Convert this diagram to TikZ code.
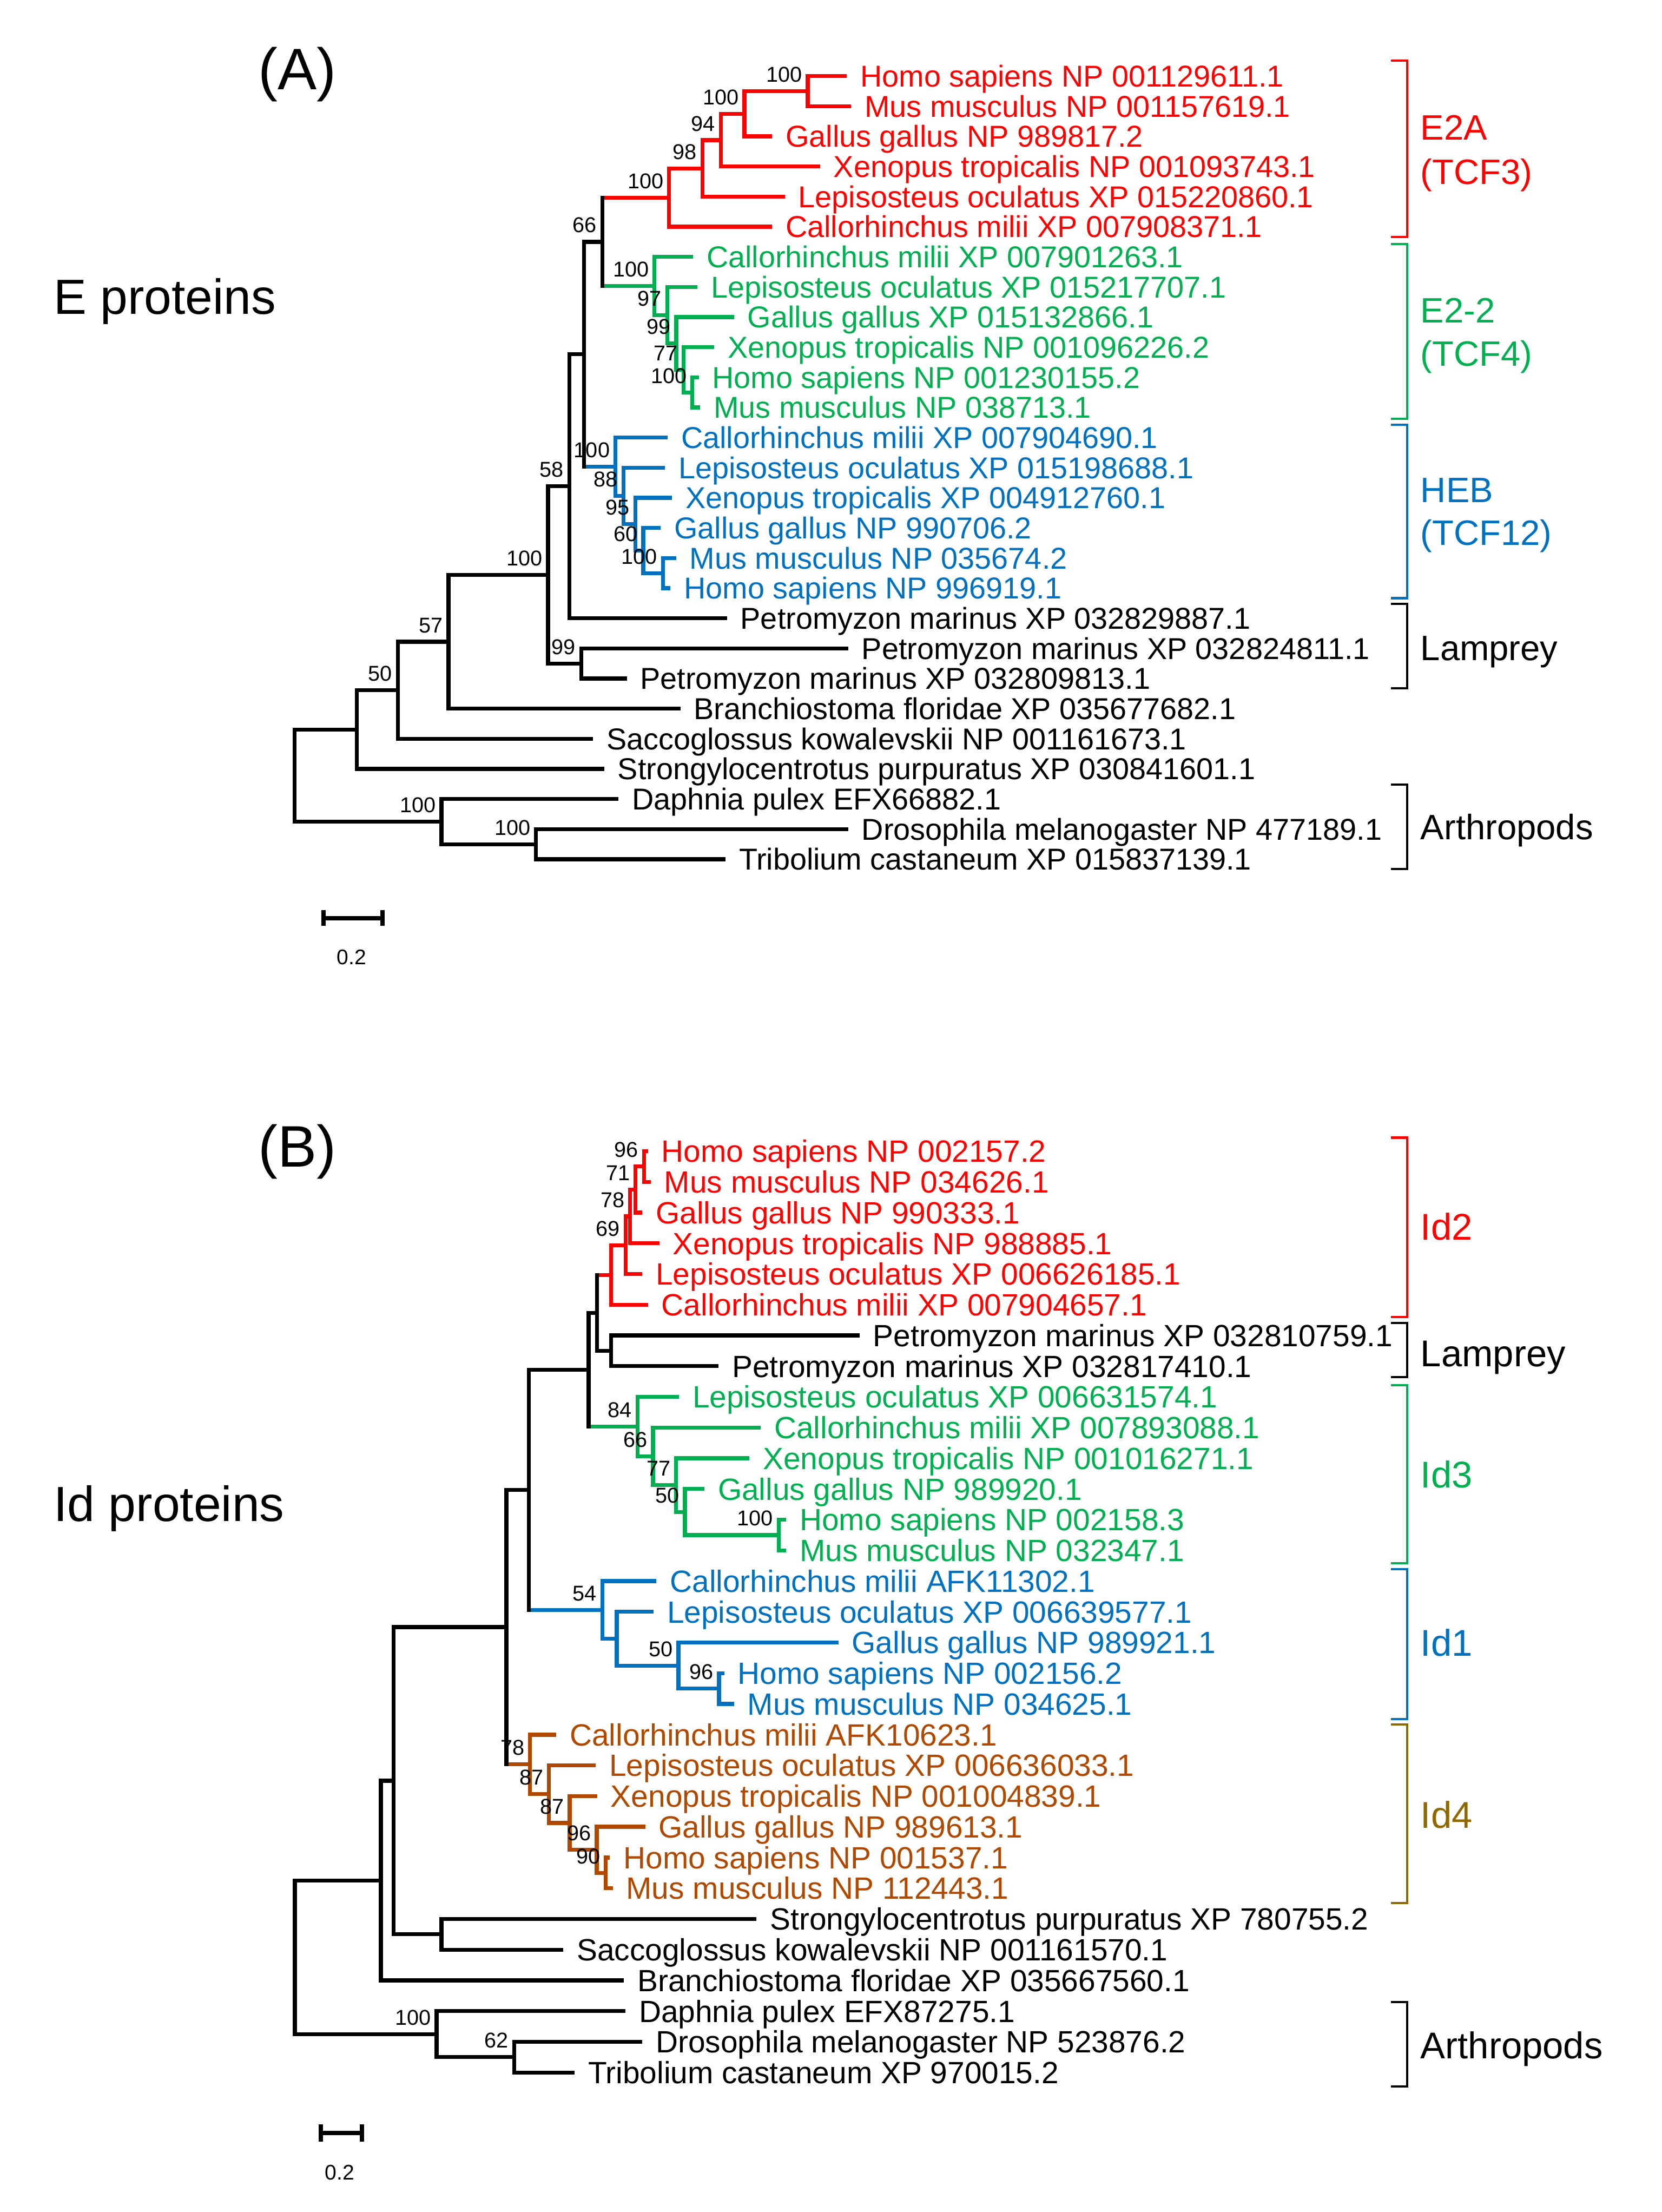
\documentclass[tikz,border=0pt]{standalone}
\usepackage{fontspec}
\setmainfont{Liberation Sans}
\usetikzlibrary{calc}
\definecolor{cred}{RGB}{255,0,0}
\definecolor{cgreen}{RGB}{0,176,80}
\definecolor{cblue}{RGB}{0,112,192}
\definecolor{cbrown}{RGB}{177,72,0}
\definecolor{colive}{RGB}{143,104,0}
\newcommand\mknode[4]{\path let \p1=(#3), \p2=(#4) in coordinate (#1) at (#2pt,{0.5*(\y1+\y2)});}
\newcommand\clade[6]{%
  \draw[tree,#4] (#1 |- #3) -- (#3);
  \draw[tree,#6] (#1 |- #5) -- (#5);
  \draw[tree,#2] (#1 |- #3) -- (#1 |- #5);}
\newcommand\boot[2]{\node[bsl] (bs-#1) at (#1) {#2};}
\newcommand\tiplabel[3]{\node[#2] (t-#1) at ([xshift=10.8pt]#1) {#3};}
\newcommand\bracketmark[4]{%
  \coordinate (#1-t) at (997.6,#3); \coordinate (#1-b) at (997.6,#4);
  \draw[brk,#2] ([xshift=-11.6pt]#1-t) -- (#1-t) -- (#1-b) -- ([xshift=-11.6pt]#1-b);}
\tikzset{
  tree/.style={line width=2.8pt, line cap=rect},
  leafA/.style={anchor=base west, inner sep=0pt, font=\fontsize{21.4}{25}\selectfont, yshift=-7.6pt},
  leafB/.style={anchor=base west, inner sep=0pt, font=\fontsize{21.8}{25}\selectfont, yshift=-7.8pt},
  bsl/.style={anchor=base east, inner sep=0pt, font=\fontsize{15.2}{17}\selectfont, xshift=-3.8pt, yshift=6.5pt},
  brk/.style={line width=1.6pt},
  brlabA/.style={anchor=base west, inner sep=0pt, font=\fontsize{25}{29}\selectfont, yshift=-8.95pt},
  brlabB/.style={anchor=base west, inner sep=0pt, font=\fontsize{26.4}{30}\selectfont, yshift=-9.45pt},
  title/.style={anchor=base west, inner sep=0pt},
  sbar/.style={line width=2.9pt},
  sbtick/.style={line width=3pt},
  sblab/.style={inner sep=0pt, font=\fontsize{15}{17}\selectfont},
}
\begin{document}
\begin{tikzpicture}[x=1pt,y=-1pt]
\fill[white] (0,0) rectangle (1178,1568);
\useasboundingbox (0,0) rectangle (1178,1568);

% ===================== Panel A =====================
\node[title, font=\fontsize{41.5}{48}\selectfont] (tA) at (183,63.5) {(A)};
\node[title, font=\fontsize{35}{40}\selectfont] (tE) at (38,222.5) {E proteins};

\coordinate (a1) at (599,54.0);
\coordinate (a2) at (602,75.35);
\coordinate (a3) at (546,96.7);
\coordinate (a4) at (580,118.05);
\coordinate (a5) at (555,139.4);
\coordinate (a6) at (546,160.75);
\coordinate (a7) at (490,182.1);
\coordinate (a8) at (493,203.45);
\coordinate (a9) at (519,224.8);
\coordinate (a10) at (505,246.15);
\coordinate (a11) at (494,267.5);
\coordinate (a12) at (495,288.85);
\coordinate (a13) at (472,310.2);
\coordinate (a14) at (470,331.55);
\coordinate (a15) at (475,352.9);
\coordinate (a16) at (467,374.25);
\coordinate (a17) at (478,395.6);
\coordinate (a18) at (474,416.95);
\coordinate (a19) at (514,438.3);
\coordinate (a20) at (600,459.65);
\coordinate (a21) at (443,481.0);
\coordinate (a22) at (481,502.35);
\coordinate (a23) at (419,523.7);
\coordinate (a24) at (427,545.05);
\coordinate (a25) at (437,566.4);
\coordinate (a26) at (600,587.75);
\coordinate (a27) at (513,609.1);

\mknode{aHM}{572.6}{a1}{a2}
\mknode{aN2}{527.8}{aHM}{a3}
\mknode{aN3}{511}{aN2}{a4}
\mknode{aN4}{498}{aN3}{a5}
\mknode{aE}{474.4}{aN4}{a6}
\mknode{aG5}{490.8}{a11}{a12}
\mknode{aG4}{484.6}{a10}{aG5}
\mknode{aG3}{479.5}{a9}{aG4}
\mknode{aG2}{473}{a8}{aG3}
\mknode{aG1}{464}{a7}{aG2}
\mknode{aB5}{470}{a17}{a18}
\mknode{aB4}{456}{a16}{aB5}
\mknode{aB3}{450.4}{a15}{aB4}
\mknode{aB2}{442}{a14}{aB3}
\mknode{aB1}{436.3}{a13}{aB2}
\mknode{aN66}{427}{aE}{aG1}
\mknode{aN414}{414}{aN66}{aB1}
\mknode{aN58}{403.6}{aN414}{a19}
\mknode{aN99}{412}{a20}{a21}
\mknode{aN100}{388.5}{aN58}{aN99}
\mknode{aN57}{318}{aN100}{a22}
\mknode{aN50}{282}{aN57}{a23}
\mknode{aN253}{253}{aN50}{a24}
\mknode{aD2}{380}{a26}{a27}
\mknode{aD1}{313}{a25}{aD2}
\mknode{aR}{208.8}{aN253}{aD1}

\clade{aHM}{cred}{a1}{cred}{a2}{cred}
\clade{aN2}{cred}{aHM}{cred}{a3}{cred}
\clade{aN3}{cred}{aN2}{cred}{a4}{cred}
\clade{aN4}{cred}{aN3}{cred}{a5}{cred}
\clade{aE}{cred}{aN4}{cred}{a6}{cred}
\clade{aG5}{cgreen}{a11}{cgreen}{a12}{cgreen}
\clade{aG4}{cgreen}{a10}{cgreen}{aG5}{cgreen}
\clade{aG3}{cgreen}{a9}{cgreen}{aG4}{cgreen}
\clade{aG2}{cgreen}{a8}{cgreen}{aG3}{cgreen}
\clade{aG1}{cgreen}{a7}{cgreen}{aG2}{cgreen}
\clade{aB5}{cblue}{a17}{cblue}{a18}{cblue}
\clade{aB4}{cblue}{a16}{cblue}{aB5}{cblue}
\clade{aB3}{cblue}{a15}{cblue}{aB4}{cblue}
\clade{aB2}{cblue}{a14}{cblue}{aB3}{cblue}
\clade{aB1}{cblue}{a13}{cblue}{aB2}{cblue}
\clade{aN66}{black}{aE}{cred}{aG1}{cgreen}
\clade{aN414}{black}{aN66}{black}{aB1}{cblue}
\clade{aN58}{black}{aN414}{black}{a19}{black}
\clade{aN99}{black}{a20}{black}{a21}{black}
\clade{aN100}{black}{aN58}{black}{aN99}{black}
\clade{aN57}{black}{aN100}{black}{a22}{black}
\clade{aN50}{black}{aN57}{black}{a23}{black}
\clade{aN253}{black}{aN50}{black}{a24}{black}
\clade{aD2}{black}{a26}{black}{a27}{black}
\clade{aD1}{black}{a25}{black}{aD2}{black}
\clade{aR}{black}{aN253}{black}{aD1}{black}

\boot{aHM}{100} \boot{aN2}{100} \boot{aN3}{94} \boot{aN4}{98} \boot{aE}{100} \boot{aN66}{66}
\boot{aG1}{100} \boot{aG2}{97} \boot{aG3}{99} \boot{aG4}{77} \boot{aG5}{100}
\boot{aB1}{100} \boot{aB2}{88} \boot{aB3}{95} \boot{aB4}{60} \boot{aB5}{100}
\boot{aN58}{58} \boot{aN99}{99} \boot{aN100}{100} \boot{aN57}{57} \boot{aN50}{50}
\boot{aD1}{100} \boot{aD2}{100}

\tiplabel{a1}{leafA,cred}{Homo sapiens NP 001129611.1}
\tiplabel{a2}{leafA,cred}{Mus musculus NP 001157619.1}
\tiplabel{a3}{leafA,cred}{Gallus gallus NP 989817.2}
\tiplabel{a4}{leafA,cred}{Xenopus tropicalis NP 001093743.1}
\tiplabel{a5}{leafA,cred}{Lepisosteus oculatus XP 015220860.1}
\tiplabel{a6}{leafA,cred}{Callorhinchus milii XP 007908371.1}
\tiplabel{a7}{leafA,cgreen}{Callorhinchus milii XP 007901263.1}
\tiplabel{a8}{leafA,cgreen}{Lepisosteus oculatus XP 015217707.1}
\tiplabel{a9}{leafA,cgreen}{Gallus gallus XP 015132866.1}
\tiplabel{a10}{leafA,cgreen}{Xenopus tropicalis NP 001096226.2}
\tiplabel{a11}{leafA,cgreen}{Homo sapiens NP 001230155.2}
\tiplabel{a12}{leafA,cgreen}{Mus musculus NP 038713.1}
\tiplabel{a13}{leafA,cblue}{Callorhinchus milii XP 007904690.1}
\tiplabel{a14}{leafA,cblue}{Lepisosteus oculatus XP 015198688.1}
\tiplabel{a15}{leafA,cblue}{Xenopus tropicalis XP 004912760.1}
\tiplabel{a16}{leafA,cblue}{Gallus gallus NP 990706.2}
\tiplabel{a17}{leafA,cblue}{Mus musculus NP 035674.2}
\tiplabel{a18}{leafA,cblue}{Homo sapiens NP 996919.1}
\tiplabel{a19}{leafA}{Petromyzon marinus XP 032829887.1}
\tiplabel{a20}{leafA}{Petromyzon marinus XP 032824811.1}
\tiplabel{a21}{leafA}{Petromyzon marinus XP 032809813.1}
\tiplabel{a22}{leafA}{Branchiostoma floridae XP 035677682.1}
\tiplabel{a23}{leafA}{Saccoglossus kowalevskii NP 001161673.1}
\tiplabel{a24}{leafA}{Strongylocentrotus purpuratus XP 030841601.1}
\tiplabel{a25}{leafA}{Daphnia pulex EFX66882.1}
\tiplabel{a26}{leafA}{Drosophila melanogaster NP 477189.1}
\tiplabel{a27}{leafA}{Tribolium castaneum XP 015837139.1}

\bracketmark{kA1}{cred}{43}{168}
\bracketmark{kA2}{cgreen}{173}{297}
\bracketmark{kA3}{cblue}{301}{424}
\bracketmark{kA4}{black}{428}{488}
\bracketmark{kA5}{black}{556}{616}
\node[brlabA,cred] (gA1) at (1007,90.3) {E2A};
\node[brlabA,cred] (gA1b) at (1007,121.8) {(TCF3)};
\node[brlabA,cgreen] (gA2) at (1007,220) {E2-2};
\node[brlabA,cgreen] (gA2b) at (1007,250.5) {(TCF4)};
\node[brlabA,cblue] (gA3) at (1007,347) {HEB};
\node[brlabA,cblue] (gA3b) at (1007,377.5) {(TCF12)};
\node[brlabA] (gA4) at (1007,459) {Lamprey};
\node[brlabA] (gA5) at (1007,586) {Arthropods};

\coordinate (sA1) at (229.4,650.8);
\coordinate (sA2) at (271.2,650.8);
\draw[sbar] (sA1) -- (sA2);
\draw[sbtick] ([yshift=5.5pt]sA1) -- ([yshift=-5.5pt]sA1);
\draw[sbtick] ([yshift=5.5pt]sA2) -- ([yshift=-5.5pt]sA2);
\node[sblab] (sAl) at (249.2,678.7) {0.2};

% ===================== Panel B =====================
\node[title, font=\fontsize{41.5}{48}\selectfont] (tB) at (183,827) {(B)};
\node[title, font=\fontsize{35}{40}\selectfont] (tId) at (38,1078.5) {Id proteins};

\coordinate (b1) at (458,816.0);
\coordinate (b2) at (460,837.77);
\coordinate (b3) at (454,859.54);
\coordinate (b4) at (466,881.31);
\coordinate (b5) at (454,903.08);
\coordinate (b6) at (458,924.85);
\coordinate (b7) at (608,946.62);
\coordinate (b8) at (508,968.39);
\coordinate (b9) at (480,990.16);
\coordinate (b10) at (538,1011.93);
\coordinate (b11) at (530,1033.7);
\coordinate (b12) at (498,1055.47);
\coordinate (b13) at (556,1077.24);
\coordinate (b14) at (556,1099.01);
\coordinate (b15) at (464,1120.78);
\coordinate (b16) at (462,1142.55);
\coordinate (b17) at (593,1164.32);
\coordinate (b18) at (512,1186.09);
\coordinate (b19) at (519,1207.86);
\coordinate (b20) at (393,1229.63);
\coordinate (b21) at (421,1251.4);
\coordinate (b22) at (422,1273.17);
\coordinate (b23) at (456,1294.94);
\coordinate (b24) at (431,1316.71);
\coordinate (b25) at (433,1338.48);
\coordinate (b26) at (535,1360.25);
\coordinate (b27) at (398,1382.02);
\coordinate (b28) at (441,1403.79);
\coordinate (b29) at (442,1425.56);
\coordinate (b30) at (454,1447.33);
\coordinate (b31) at (406,1469.1);

\mknode{bR96}{456.5}{b1}{b2}
\mknode{bR71}{450.5}{bR96}{b3}
\mknode{bR78}{446.7}{bR71}{b4}
\mknode{bR69}{443.5}{bR78}{b5}
\mknode{bR}{433.3}{bR69}{b6}
\mknode{bLam}{433.3}{b7}{b8}
\mknode{bN423}{423.3}{bR}{bLam}
\mknode{bG100}{552}{b13}{b14}
\mknode{bG50}{485.6}{b12}{bG100}
\mknode{bG77}{479.3}{b11}{bG50}
\mknode{bG66}{463}{b10}{bG77}
\mknode{bG84}{451.9}{b9}{bG66}
\mknode{bN417}{417.3}{bN423}{bG84}
\mknode{bB96}{509.8}{b18}{b19}
\mknode{bB50}{481}{b17}{bB96}
\mknode{bB2}{437.3}{b16}{bB50}
\mknode{bB54}{427}{b15}{bB2}
\mknode{bN374}{375}{bN417}{bB54}
\mknode{bO90}{429.4}{b24}{b25}
\mknode{bO96}{423.1}{b23}{bO90}
\mknode{bO87b}{403.9}{b22}{bO96}
\mknode{bO87a}{389.2}{b21}{bO87b}
\mknode{bO78}{375.8}{b20}{bO87a}
\mknode{bN357}{359}{bN374}{bO78}
\mknode{bSP}{313}{b26}{b27}
\mknode{bN275}{279}{bN357}{bSP}
\mknode{bN266}{270}{bN275}{b28}
\mknode{bD62}{364.5}{b30}{b31}
\mknode{bD100}{309.5}{b29}{bD62}
\mknode{bRoot}{209}{bN266}{bD100}

\clade{bR96}{cred}{b1}{cred}{b2}{cred}
\clade{bR71}{cred}{bR96}{cred}{b3}{cred}
\clade{bR78}{cred}{bR71}{cred}{b4}{cred}
\clade{bR69}{cred}{bR78}{cred}{b5}{cred}
\clade{bR}{cred}{bR69}{cred}{b6}{cred}
\clade{bLam}{black}{b7}{black}{b8}{black}
\clade{bN423}{black}{bR}{cred}{bLam}{black}
\clade{bG100}{cgreen}{b13}{cgreen}{b14}{cgreen}
\clade{bG50}{cgreen}{b12}{cgreen}{bG100}{cgreen}
\clade{bG77}{cgreen}{b11}{cgreen}{bG50}{cgreen}
\clade{bG66}{cgreen}{b10}{cgreen}{bG77}{cgreen}
\clade{bG84}{cgreen}{b9}{cgreen}{bG66}{cgreen}
\clade{bN417}{black}{bN423}{black}{bG84}{cgreen}
\clade{bB96}{cblue}{b18}{cblue}{b19}{cblue}
\clade{bB50}{cblue}{b17}{cblue}{bB96}{cblue}
\clade{bB2}{cblue}{b16}{cblue}{bB50}{cblue}
\clade{bB54}{cblue}{b15}{cblue}{bB2}{cblue}
\clade{bN374}{black}{bN417}{black}{bB54}{cblue}
\clade{bO90}{cbrown}{b24}{cbrown}{b25}{cbrown}
\clade{bO96}{cbrown}{b23}{cbrown}{bO90}{cbrown}
\clade{bO87b}{cbrown}{b22}{cbrown}{bO96}{cbrown}
\clade{bO87a}{cbrown}{b21}{cbrown}{bO87b}{cbrown}
\clade{bO78}{cbrown}{b20}{cbrown}{bO87a}{cbrown}
\clade{bN357}{black}{bN374}{black}{bO78}{cbrown}
\clade{bSP}{black}{b26}{black}{b27}{black}
\clade{bN275}{black}{bN357}{black}{bSP}{black}
\clade{bN266}{black}{bN275}{black}{b28}{black}
\clade{bD62}{black}{b30}{black}{b31}{black}
\clade{bD100}{black}{b29}{black}{bD62}{black}
\clade{bRoot}{black}{bN266}{black}{bD100}{black}

\boot{bR96}{96} \boot{bR71}{71} \boot{bR78}{78} \boot{bR69}{69}
\boot{bG84}{84} \boot{bG66}{66} \boot{bG77}{77} \boot{bG50}{50} \boot{bG100}{100}
\boot{bB54}{54} \boot{bB50}{50} \boot{bB96}{96}
\boot{bO78}{78} \boot{bO87a}{87} \boot{bO87b}{87} \boot{bO96}{96} \boot{bO90}{90}
\boot{bD100}{100} \boot{bD62}{62}

\tiplabel{b1}{leafB,cred}{Homo sapiens NP 002157.2}
\tiplabel{b2}{leafB,cred}{Mus musculus NP 034626.1}
\tiplabel{b3}{leafB,cred}{Gallus gallus NP 990333.1}
\tiplabel{b4}{leafB,cred}{Xenopus tropicalis NP 988885.1}
\tiplabel{b5}{leafB,cred}{Lepisosteus oculatus XP 006626185.1}
\tiplabel{b6}{leafB,cred}{Callorhinchus milii XP 007904657.1}
\tiplabel{b7}{leafB}{Petromyzon marinus XP 032810759.1}
\tiplabel{b8}{leafB}{Petromyzon marinus XP 032817410.1}
\tiplabel{b9}{leafB,cgreen}{Lepisosteus oculatus XP 006631574.1}
\tiplabel{b10}{leafB,cgreen}{Callorhinchus milii XP 007893088.1}
\tiplabel{b11}{leafB,cgreen}{Xenopus tropicalis NP 001016271.1}
\tiplabel{b12}{leafB,cgreen}{Gallus gallus NP 989920.1}
\tiplabel{b13}{leafB,cgreen}{Homo sapiens NP 002158.3}
\tiplabel{b14}{leafB,cgreen}{Mus musculus NP 032347.1}
\tiplabel{b15}{leafB,cblue}{Callorhinchus milii AFK11302.1}
\tiplabel{b16}{leafB,cblue}{Lepisosteus oculatus XP 006639577.1}
\tiplabel{b17}{leafB,cblue}{Gallus gallus NP 989921.1}
\tiplabel{b18}{leafB,cblue}{Homo sapiens NP 002156.2}
\tiplabel{b19}{leafB,cblue}{Mus musculus NP 034625.1}
\tiplabel{b20}{leafB,cbrown}{Callorhinchus milii AFK10623.1}
\tiplabel{b21}{leafB,cbrown}{Lepisosteus oculatus XP 006636033.1}
\tiplabel{b22}{leafB,cbrown}{Xenopus tropicalis NP 001004839.1}
\tiplabel{b23}{leafB,cbrown}{Gallus gallus NP 989613.1}
\tiplabel{b24}{leafB,cbrown}{Homo sapiens NP 001537.1}
\tiplabel{b25}{leafB,cbrown}{Mus musculus NP 112443.1}
\tiplabel{b26}{leafB}{Strongylocentrotus purpuratus XP 780755.2}
\tiplabel{b27}{leafB}{Saccoglossus kowalevskii NP 001161570.1}
\tiplabel{b28}{leafB}{Branchiostoma floridae XP 035667560.1}
\tiplabel{b29}{leafB}{Daphnia pulex EFX87275.1}
\tiplabel{b30}{leafB}{Drosophila melanogaster NP 523876.2}
\tiplabel{b31}{leafB}{Tribolium castaneum XP 970015.2}

\bracketmark{kB1}{cred}{806.4}{933.7}
\bracketmark{kB2}{black}{937.7}{976.2}
\bracketmark{kB3}{cgreen}{982}{1108}
\bracketmark{kB4}{cblue}{1112.4}{1218.6}
\bracketmark{kB5}{colive}{1222.5}{1349}
\bracketmark{kB6}{black}{1419.3}{1479}
\node[brlabB,cred] (gB1) at (1007,869.4) {Id2};
\node[brlabB] (gB2) at (1007,959.2) {Lamprey};
\node[brlabB,cgreen] (gB3) at (1007,1045.2) {Id3};
\node[brlabB,cblue] (gB4) at (1007,1164.6) {Id1};
\node[brlabB,colive] (gB5) at (1007,1286.3) {Id4};
\node[brlabB] (gB6) at (1007,1449.9) {Arthropods};

\coordinate (sB1) at (227.5,1512);
\coordinate (sB2) at (256.6,1512);
\draw[sbar] (sB1) -- (sB2);
\draw[sbtick] ([yshift=6pt]sB1) -- ([yshift=-6pt]sB1);
\draw[sbtick] ([yshift=6pt]sB2) -- ([yshift=-6pt]sB2);
\node[sblab] (sBl) at (240.9,1540) {0.2};
\end{tikzpicture}
\end{document}
